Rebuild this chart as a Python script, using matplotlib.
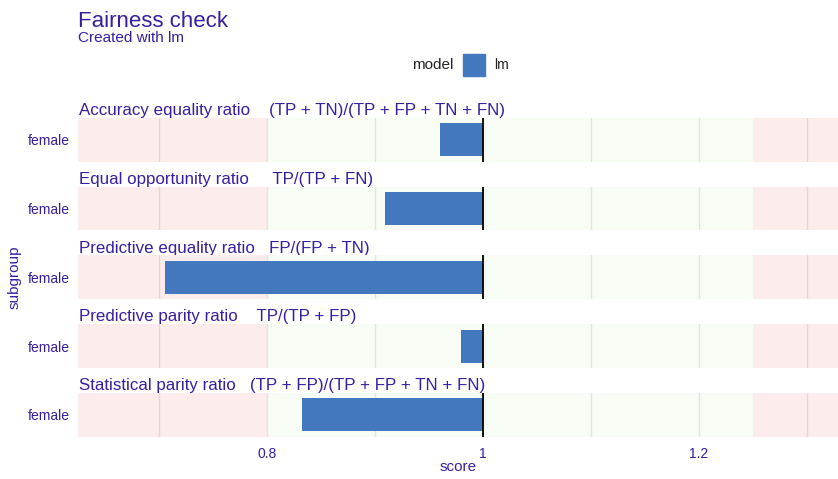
import matplotlib
matplotlib.use("Agg")
import matplotlib.pyplot as plt
from matplotlib.patches import Rectangle

plt.rcParams['font.family'] = ['Liberation Sans', 'DejaVu Sans']

# ---- data ----
metrics = ["Accuracy equality ratio", "Equal opportunity ratio",
           "Predictive equality ratio", "Predictive parity ratio",
           "Statistical parity ratio"]
formulas = ["(TP + TN)/(TP + FP + TN + FN)", "TP/(TP + FN)",
            "FP/(FP + TN)", "TP/(TP + FP)", "(TP + FP)/(TP + FP + TN + FN)"]
separators = ["    ", "     ", "   ", "    ", "   "]
subgroup = ["female"]
scores = [0.960, 0.909, 0.706, 0.980, 0.832]
model_name = "lm"
epsilon_low, epsilon_high = 0.8, 1.25
x_ticks = [0.8, 1.0, 1.2]
x_tick_labels = ["0.8", "1", "1.2"]
minor_ticks = [0.7, 0.9, 1.1, 1.3]

TXT = "#371ea3"
BAR = "#4378bf"
RED = "#fdecec"
GREEN = "#f7fcf5"

W, H = 838, 479
fig = plt.figure(figsize=(W / 100, H / 100), dpi=100)

xlim = (0.625, 1.3287)
left_px, right_px = 78, 838
tops = [117.7, 186.5, 255.4, 324.2, 393.0]
ph = 43.8

def fx(px):
    return px / W

def fy(py):
    return 1 - py / H

axes = []
for i, (m, sep, f, s) in enumerate(zip(metrics, separators, formulas, scores)):
    top = tops[i]
    ax = fig.add_axes([fx(left_px), fy(top + ph), fx(right_px - left_px), ph / H])
    ax.set_facecolor("white")
    ax.set_xlim(*xlim)
    ax.set_ylim(-0.6, 0.6)
    # background zones
    ax.axvspan(xlim[0], epsilon_low, color=RED, zorder=0, lw=0)
    ax.axvspan(epsilon_low, epsilon_high, color=GREEN, zorder=0, lw=0)
    ax.axvspan(epsilon_high, xlim[1], color=RED, zorder=0, lw=0)
    for g in x_ticks + minor_ticks:
        ax.axvline(g, color=(0, 0, 0, 0.09), lw=1.0, zorder=1)
    # bar from 1 to score
    ax.barh([0], [s - 1.0], left=1.0, height=0.9, color=BAR, zorder=2)
    ax.axvline(1.0, color="black", lw=1.3, zorder=3)
    for sp in ax.spines.values():
        sp.set_visible(False)
    ax.set_yticks([0])
    ax.set_yticklabels(subgroup, fontsize=10, color=TXT)
    ax.tick_params(axis='y', length=0, pad=6)
    ax.set_xticks(x_ticks)
    if i == len(metrics) - 1:
        ax.set_xticklabels(x_tick_labels, fontsize=10, color=TXT)
        ax.tick_params(axis='x', length=0, pad=7)
    else:
        ax.set_xticklabels([])
        ax.tick_params(axis='x', length=0)
    # strip label
    fig.text(fx(79), fy(top - 2.7), m + sep + f, fontsize=12.2, color=TXT,
             ha='left', va='baseline', zorder=-1)
    axes.append(ax)

# titles
fig.text(fx(78), fy(26.7), "Fairness check", fontsize=16, color=TXT,
         ha='left', va='baseline')
fig.text(fx(78), fy(41.5), "Created with " + model_name, fontsize=11, color=TXT,
         ha='left', va='baseline')

# axis titles
fig.text(fx((left_px + right_px) / 2), fy(467), "score", fontsize=11, color=TXT,
         ha='center', va='center')
fig.text(fx(15), fy(277), "subgroup", fontsize=11, color=TXT,
         ha='center', va='center', rotation=90)

# legend
fig.text(fx(412), fy(65), "model", fontsize=11, color="#222222",
         ha='left', va='center')
fig.patches.append(Rectangle((fx(463), fy(76)), fx(22), 22 / H, color=BAR,
                             transform=fig.transFigure, figure=fig))
fig.text(fx(494), fy(65), model_name, fontsize=10, color="#222222",
         ha='left', va='center')

fig.savefig("out.png", dpi=100, facecolor="white")
